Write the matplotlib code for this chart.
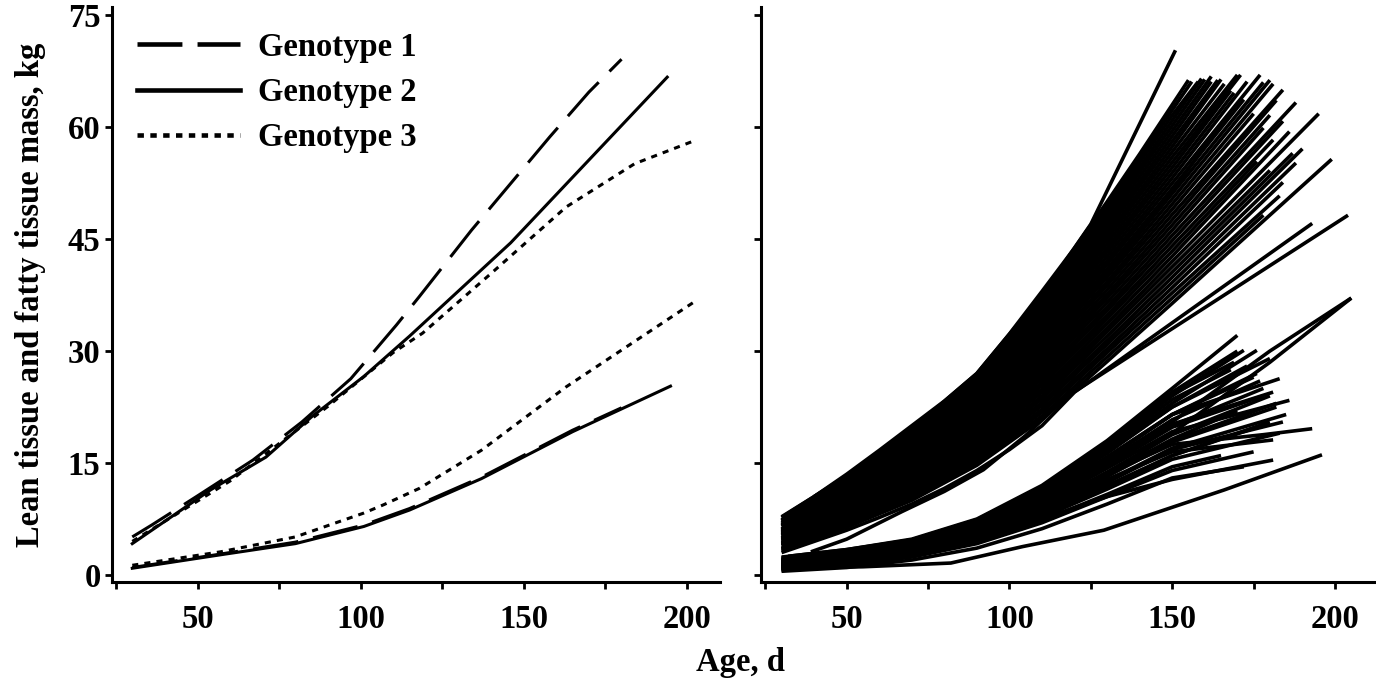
import matplotlib
matplotlib.use("Agg")
import matplotlib.pyplot as plt
from matplotlib.lines import Line2D
from matplotlib.ticker import FixedLocator, FixedFormatter

plt.rcParams['font.family'] = ['Liberation Serif', 'DejaVu Serif']
plt.rcParams['font.weight'] = 'bold'

# ---------------- data: left panel (genotype means) ----------------
g1_lean_age = [30, 36, 50, 67, 82, 97, 111, 118, 134, 158, 170, 180]
g1_lean = [5.1, 6.7, 10.6, 15.4, 20.5, 26.3, 33.5, 37.3, 46.2, 58.7, 64.7, 69.1]
g2_lean_age = [30, 54, 71, 85, 101, 115, 146, 194]
g2_lean = [4.2, 11.4, 15.8, 21.2, 26.6, 32.0, 44.5, 66.7]
g3_lean_age = [30, 60, 90, 110, 119, 140, 163, 184, 203]
g3_lean = [4.5, 12.6, 22.6, 29.8, 32.4, 40.4, 49.3, 55.1, 58.3]

g1_fat_age = [30, 57, 80, 101, 115, 137, 165, 180]
g1_fat = [1.0, 2.8, 4.4, 6.7, 8.9, 13.1, 19.4, 22.4]
g2_fat_age = [30, 57, 80, 101, 115, 137, 165, 195]
g2_fat = [0.9, 2.7, 4.2, 6.5, 8.7, 12.9, 19.2, 25.3]
g3_fat_age = [30, 57, 80, 101, 107, 118, 137, 163, 203]
g3_fat = [1.3, 3.1, 5.1, 8.3, 9.4, 11.6, 16.7, 25.2, 36.8]

genotype_labels = ['Genotype 1', 'Genotype 2', 'Genotype 3']

# ---------------- data: right panel (individual animals) ----------------
lean_ages = [
    [40, 55, 70, 90, 110, 125, 151],
    [30, 40, 50, 60, 70, 80, 90, 100, 110, 120, 130, 140, 150, 155],
    [30, 50, 70, 90, 110, 130, 150, 156],
    [33, 50, 70, 90, 110, 130, 150, 158],
    [30, 50, 70, 90, 110, 130, 150, 159],
    [30, 50, 70, 90, 110, 130, 150, 160],
    [30, 50, 70, 90, 110, 130, 150, 162],
    [31, 50, 70, 90, 110, 130, 150, 162],
    [30, 50, 70, 90, 110, 130, 150, 164],
    [30, 50, 70, 90, 110, 130, 150, 165],
    [30, 50, 70, 90, 110, 130, 150, 166],
    [30, 50, 70, 90, 110, 130, 150, 170],
    [30, 50, 70, 90, 110, 130, 150, 171],
    [32, 50, 70, 90, 110, 130, 150, 168],
    [30, 50, 70, 90, 110, 130, 150, 169],
    [30, 50, 70, 90, 110, 130, 150, 173],
    [30, 50, 70, 90, 110, 130, 150, 177],
    [30, 50, 70, 90, 110, 130, 150, 172],
    [30, 50, 70, 90, 110, 130, 150, 178],
    [30, 50, 70, 90, 110, 130, 150, 180],
    [30, 50, 70, 90, 110, 130, 150, 181],
    [30, 50, 70, 90, 110, 130, 150, 175],
    [30, 50, 70, 90, 110, 130, 150, 184],
    [30, 50, 70, 90, 110, 130, 150, 182],
    [30, 50, 70, 90, 110, 130, 150, 180],
    [30, 50, 70, 90, 110, 130, 150, 178],
    [30, 50, 70, 90, 110, 130, 150, 188],
    [30, 50, 70, 90, 110, 130, 150, 184],
    [30, 50, 70, 90, 110, 130, 150, 181],
    [30, 50, 70, 90, 110, 130, 150, 176],
    [30, 50, 70, 90, 110, 130, 150, 186],
    [30, 50, 70, 90, 110, 130, 150, 195],
    [30, 50, 70, 90, 110, 130, 150, 180],
    [30, 50, 70, 90, 110, 130, 150, 187],
    [30, 50, 70, 90, 110, 130, 150, 190],
    [31, 50, 70, 90, 110, 130, 150, 188],
    [30, 50, 70, 90, 110, 130, 150, 184],
    [30, 50, 70, 90, 110, 130, 150, 183],
    [30, 50, 70, 90, 110, 130, 150, 178],
    [30, 50, 70, 90, 110, 130, 150, 199],
    [30, 40, 50, 60, 70, 80, 90, 100, 110, 120, 193],
    [39, 50, 67, 80, 92, 105, 118, 204],
    [30, 50, 70, 90, 110, 130, 150, 168],
]
lean_mass = [
    [10.5, 14.5, 19.5, 27.0, 37.5, 47.0, 70.3],
    [7.8, 10.5, 13.5, 16.7, 20.0, 23.3, 27.0, 32.3, 38.0, 43.8, 50.0, 56.4, 63.0, 66.3],
    [7.7, 13.3, 19.7, 26.7, 37.5, 49.4, 62.3, 66.1],
    [7.6, 13.1, 19.5, 26.4, 37.1, 48.9, 61.6, 66.1],
    [7.4, 12.9, 19.2, 26.0, 36.6, 48.3, 60.9, 66.5],
    [7.3, 12.8, 19.0, 25.7, 36.2, 47.8, 60.2, 66.4],
    [7.2, 12.6, 18.7, 25.4, 35.7, 47.2, 59.5, 66.8],
    [7.1, 12.4, 18.4, 25.1, 35.3, 46.6, 58.8, 66.1],
    [7.0, 12.2, 18.2, 24.7, 34.8, 46.1, 58.1, 66.3],
    [6.8, 12.0, 17.9, 24.4, 34.4, 45.5, 57.4, 66.4],
    [6.7, 11.8, 17.6, 24.1, 33.9, 45.0, 56.7, 65.8],
    [6.6, 11.6, 17.4, 23.8, 33.5, 44.4, 56.0, 67.0],
    [6.5, 11.5, 17.1, 23.4, 33.0, 43.8, 55.3, 67.0],
    [6.4, 11.3, 16.9, 23.1, 32.6, 43.3, 54.6, 64.9],
    [6.2, 11.1, 16.6, 22.8, 32.1, 42.7, 53.9, 64.6],
    [6.1, 10.9, 16.3, 22.5, 31.7, 42.1, 53.2, 66.1],
    [6.0, 10.7, 16.1, 22.1, 31.2, 41.6, 52.5, 67.0],
    [5.9, 10.5, 15.8, 21.8, 30.8, 41.0, 51.8, 63.7],
    [5.8, 10.3, 15.6, 21.5, 30.3, 40.4, 51.1, 66.0],
    [5.6, 10.1, 15.3, 21.2, 29.9, 39.9, 50.4, 66.3],
    [5.5, 10.0, 15.0, 20.8, 29.4, 39.3, 49.7, 65.8],
    [5.4, 9.8, 14.8, 20.5, 29.0, 38.8, 49.0, 61.8],
    [5.3, 9.6, 14.5, 20.2, 28.5, 38.2, 48.3, 65.0],
    [5.2, 9.4, 14.2, 19.9, 28.1, 37.6, 47.6, 63.6],
    [5.0, 9.2, 14.0, 19.6, 27.6, 37.1, 46.9, 61.6],
    [4.9, 9.0, 13.7, 19.2, 27.2, 36.5, 46.2, 59.9],
    [4.8, 8.8, 13.5, 18.9, 26.7, 35.9, 45.5, 63.3],
    [4.7, 8.6, 13.2, 18.6, 26.3, 35.4, 44.8, 60.8],
    [4.6, 8.4, 12.9, 18.3, 25.8, 34.8, 44.1, 58.3],
    [4.4, 8.3, 12.7, 17.9, 25.4, 34.3, 43.4, 55.4],
    [4.3, 8.1, 12.4, 17.6, 24.9, 33.7, 42.7, 59.4],
    [4.2, 7.9, 12.1, 17.3, 24.5, 33.1, 42.0, 61.8],
    [4.1, 7.7, 11.9, 16.9, 24.0, 32.6, 41.3, 54.2],
    [4.0, 7.5, 11.6, 16.6, 23.6, 32.0, 40.6, 56.5],
    [3.9, 7.3, 11.4, 16.3, 23.1, 31.4, 39.9, 57.1],
    [3.7, 7.1, 11.1, 16.0, 22.7, 30.9, 39.2, 55.2],
    [3.6, 7.0, 10.8, 15.7, 22.2, 30.3, 38.5, 52.6],
    [3.5, 6.8, 10.6, 15.3, 21.8, 29.8, 37.8, 50.8],
    [3.4, 6.6, 10.3, 15.0, 21.3, 29.2, 37.1, 48.2],
    [3.2, 6.4, 10.0, 14.7, 20.9, 28.6, 36.4, 55.7],
    [3.0, 4.5, 6.0, 7.7, 9.5, 11.6, 14.0, 16.8, 20.0, 24.5, 47.1],
    [3.1, 4.8, 8.5, 11.2, 14.1, 18.7, 24.0, 48.2],
    [5.7, 10.2, 15.5, 21.6, 30.5, 40.7, 51.5, 62.0],
]

fat_ages = [
    [32, 50, 70, 90, 110, 130, 150, 170],
    [30, 50, 70, 90, 110, 130, 150, 172],
    [30, 50, 70, 90, 110, 130, 150, 176],
    [30, 50, 70, 90, 110, 130, 150, 183],
    [30, 50, 70, 90, 110, 130, 150, 181],
    [30, 50, 70, 90, 110, 130, 150, 186],
    [30, 50, 70, 90, 110, 130, 150, 178, 193],
    [30, 50, 70, 90, 110, 130, 150, 181],
    [30, 50, 70, 90, 110, 130, 150, 181],
    [30, 55, 82, 104, 129, 166, 196],
    [30, 50, 70, 90, 110, 130, 150, 180, 205],
    [30, 50, 70, 90, 110, 130, 150, 180, 205],
    [30, 50, 70, 90, 110, 130, 150, 173],
    [30, 50, 70, 90, 110, 130, 150, 180],
    [30, 50, 70, 90, 110, 130, 150, 182],
    [30, 50, 70, 90, 110, 130, 150, 184],
    [30, 50, 70, 90, 110, 130, 150, 183],
    [30, 50, 70, 90, 110, 130, 150, 168],
    [30, 50, 70, 90, 110, 130, 150, 175],
    [30, 50, 70, 90, 110, 130, 150, 178],
    [30, 50, 70, 90, 110, 130, 150, 185],
    [30, 50, 70, 90, 110, 130, 150, 170],
    [30, 50, 70, 90, 110, 130, 150, 175],
    [30, 50, 70, 90, 110, 130, 150, 170],
    [35, 50, 70, 90, 110, 130, 150, 178],
    [30, 50, 70, 90, 110, 130, 150, 172],
    [30, 50, 70, 90, 110, 130, 150, 165],
    [30, 50, 70, 90, 110, 130, 150, 180],
    [30, 50, 70, 90, 110, 130, 150, 176],
    [30, 50, 70, 90, 110, 130, 150, 182],
    [30, 50, 70, 90, 110, 130, 150, 174],
    [30, 50, 70, 90, 110, 130, 150, 180],
    [30, 50, 70, 90, 110, 130, 150, 177],
    [30, 50, 70, 90, 110, 130, 150, 169],
]
fat_mass = [
    [2.5, 3.4, 4.8, 7.5, 12.0, 18.0, 25.0, 32.1],
    [2.2, 3.2, 4.6, 7.2, 11.5, 17.3, 24.0, 30.1],
    [2.0, 3.0, 4.4, 6.9, 11.0, 16.6, 23.0, 30.1],
    [1.8, 2.8, 4.2, 6.6, 10.5, 15.8, 21.5, 26.3],
    [1.6, 2.6, 4.0, 6.3, 10.0, 15.0, 20.2, 24.5],
    [1.5, 2.5, 3.8, 6.0, 9.5, 14.3, 19.2, 23.4],
    [1.3, 2.3, 3.6, 5.7, 9.0, 13.5, 17.5, 18.8, 19.6],
    [1.1, 2.1, 3.4, 5.4, 8.6, 12.8, 16.5, 18.1],
    [0.9, 1.8, 3.0, 4.8, 7.5, 10.5, 12.8, 15.4],
    [0.9, 1.1, 1.6, 3.8, 6.0, 11.4, 16.1],
    [1.4, 2.4, 3.7, 5.9, 9.4, 14.5, 20.5, 30.0, 37.1],
    [1.2, 2.2, 3.5, 5.5, 8.8, 13.5, 19.0, 28.5, 37.1],
    [1.9, 2.9, 4.3, 6.8, 10.8, 16.3, 22.5, 28.0],
    [1.4, 2.4, 3.7, 5.8, 9.2, 13.8, 18.8, 24.0],
    [1.2, 2.2, 3.5, 5.5, 8.8, 13.2, 17.8, 22.5],
    [1.0, 2.0, 3.3, 5.2, 8.3, 12.4, 16.8, 20.5],
    [0.8, 1.7, 2.9, 4.8, 7.7, 11.5, 15.5, 19.0],
    [2.1, 3.1, 4.5, 7.0, 11.2, 17.0, 23.5, 27.5],
    [1.7, 2.7, 4.1, 6.5, 10.3, 15.5, 21.5, 26.5],
    [1.5, 2.5, 3.9, 6.1, 9.7, 14.6, 19.8, 24.0],
    [1.1, 2.1, 3.4, 5.3, 8.5, 12.6, 17.0, 21.5],
    [1.3, 2.3, 3.6, 5.6, 9.0, 13.5, 18.2, 22.0],
    [0.6, 1.3, 2.4, 4.2, 7.0, 10.5, 14.0, 16.5],
    [2.3, 3.3, 4.7, 7.4, 11.8, 17.8, 24.5, 30.0],
    [1.6, 2.6, 4.0, 6.2, 9.9, 14.8, 20.0, 25.0],
    [0.5, 1.0, 2.0, 3.6, 6.2, 9.5, 13.0, 14.5],
    [0.7, 1.4, 2.6, 4.4, 7.3, 10.8, 14.5, 16.0],
    [1.0, 1.9, 3.1, 5.0, 8.0, 12.0, 16.0, 20.5],
    [1.8, 2.8, 4.2, 6.6, 10.5, 15.8, 21.5, 27.0],
    [1.3, 2.3, 3.6, 5.6, 8.9, 13.4, 18.0, 23.0],
    [0.9, 1.8, 3.0, 4.9, 7.8, 11.7, 16.0, 19.5],
    [2.0, 3.0, 4.4, 6.9, 11.0, 16.6, 22.5, 29.0],
    [1.7, 2.6, 3.9, 6.3, 10.1, 15.2, 20.8, 26.0],
    [2.4, 3.4, 4.7, 7.3, 11.7, 17.6, 24.2, 28.5],
]

x_ticks = [25, 50, 75, 100, 125, 150, 175, 200]
x_ticklabels = ['', '50', '', '100', '', '150', '', '200']
y_ticks = [0, 15, 30, 45, 60, 75]
y_ticklabels = ['0', '15', '30', '45', '60', '75']

# ---------------- figure ----------------
FS = 23.5
fig = plt.figure(figsize=(13.76, 6.79), dpi=100)
ax1 = fig.add_axes([0.0812, 0.1433, 0.4421, 0.8464])
ax2 = fig.add_axes([0.5531, 0.1433, 0.4469, 0.8464])

LW = 2.2
dash_styles = [(0, (15, 5)), '-', (0, (2, 2))]

ax1.plot(g1_lean_age, g1_lean, color='black', lw=LW, ls=dash_styles[0])
ax1.plot(g2_lean_age, g2_lean, color='black', lw=LW, ls=dash_styles[1])
ax1.plot(g3_lean_age, g3_lean, color='black', lw=LW, ls=dash_styles[2])
ax1.plot(g1_fat_age, g1_fat, color='black', lw=LW, ls=dash_styles[0])
ax1.plot(g2_fat_age, g2_fat, color='black', lw=LW, ls=dash_styles[1])
ax1.plot(g3_fat_age, g3_fat, color='black', lw=LW, ls=dash_styles[2])

for a, m in zip(lean_ages, lean_mass):
    ax2.plot(a, m, color='black', lw=2.6, solid_capstyle='butt', solid_joinstyle='round')
for a, m in zip(fat_ages, fat_mass):
    ax2.plot(a, m, color='black', lw=2.6, solid_capstyle='butt', solid_joinstyle='round')

for ax in (ax1, ax2):
    ax.set_xlim(23.7, 210.2 if ax is ax1 else 212.6)
    ax.set_ylim(-0.9, 76.1)
    for s in ('top', 'right'):
        ax.spines[s].set_visible(False)
    for s in ('left', 'bottom'):
        ax.spines[s].set_linewidth(2.2)
    ax.xaxis.set_major_locator(FixedLocator(x_ticks))
    ax.xaxis.set_major_formatter(FixedFormatter(x_ticklabels))
    ax.yaxis.set_major_locator(FixedLocator(y_ticks))
    ax.tick_params(direction='out', length=5, width=2, labelsize=FS, colors='black')
    ax.tick_params(axis='x', pad=11)
    ax.tick_params(axis='y', pad=3)

ax1.yaxis.set_major_formatter(FixedFormatter(y_ticklabels))
ax2.yaxis.set_major_formatter(FixedFormatter(['' for _ in y_ticks]))

handles = [
    Line2D([], [], color='black', lw=3.3, ls=(0, (9.8, 3.3))),
    Line2D([], [], color='black', lw=3.3, ls='-'),
    Line2D([], [], color='black', lw=3.3, ls=(0, (1.4, 1.4))),
]
leg = ax1.legend(handles, genotype_labels, loc='upper left', bbox_to_anchor=(0.0416, 0.957),
                 frameon=False, prop={'size': FS, 'weight': 'bold'},
                 handlelength=3.16, handletextpad=0.55, labelspacing=0.44,
                 borderpad=0, borderaxespad=0)

fig.text(0.022, 0.5663, 'Lean tissue and fatty tissue mass, kg', rotation=90,
         ha='center', va='center', fontsize=FS, fontweight='bold')
fig.text(0.538, 0.024, 'Age, d', ha='center', va='center', fontsize=FS, fontweight='bold')

fig.savefig('out.png', dpi=100)
